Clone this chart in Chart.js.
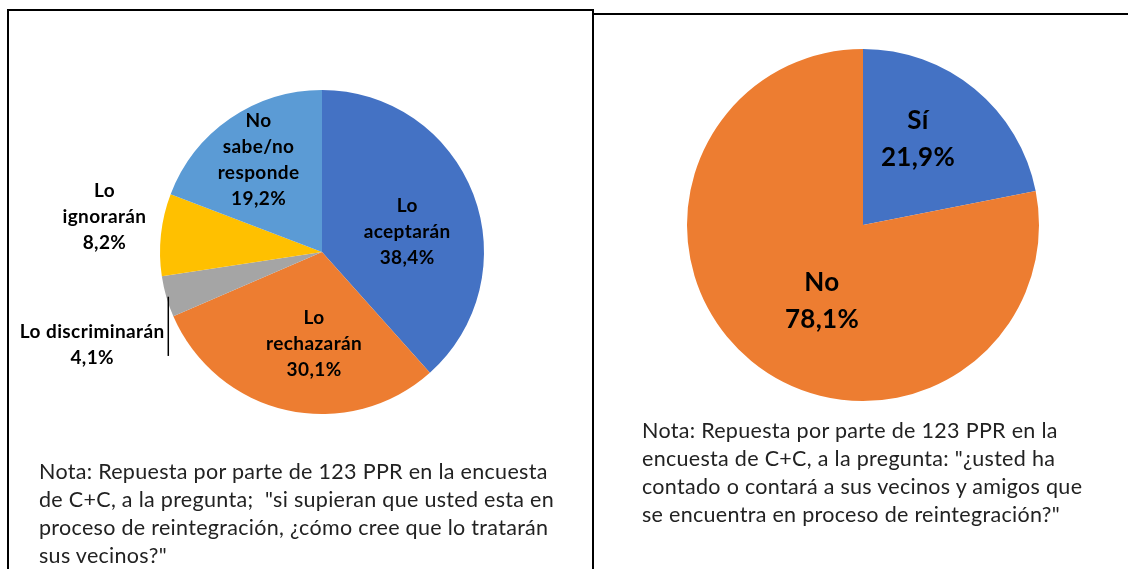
<!DOCTYPE html>
<html>
<head>
<meta charset="utf-8">
<script src="https://cdn.jsdelivr.net/npm/chart.js@4/dist/chart.umd.min.js"></script>
<style>
  html,body{margin:0;padding:0;background:#fff;}
  body{width:1128px;height:569px;position:relative;overflow:hidden;font-family:Lato,"Open Sans",sans-serif;}
  .box{position:absolute;box-sizing:border-box;}
  #leftBox{left:7px;top:9px;width:587px;height:600px;border:2px solid #000;}
  #rightTop{left:592px;top:13px;width:536px;height:2px;background:#000;}
  .wrap{position:absolute;}
  .note{position:absolute;line-height:28px;color:#222;white-space:nowrap;font-size:21.5px;letter-spacing:0.3px;}
</style>
</head>
<body>
<div class="box" id="leftBox"></div>
<div class="box" id="rightTop"></div>
<div class="wrap" style="left:9px;top:11px;width:582px;height:480px;"><canvas id="c1"></canvas></div>
<div class="wrap" style="left:594px;top:15px;width:534px;height:410px;"><canvas id="c2"></canvas></div>
<div class="note" id="n1" style="left:39px;top:457px;"></div>
<div class="note" id="n2" style="left:642px;top:416px;"></div>
<script>
// ---- Data ----
const leftCategories = ['Lo aceptarán', 'Lo rechazarán', 'Lo discriminarán', 'Lo ignorarán', 'No sabe/no responde'];
const leftLabelLines = [['Lo', 'aceptarán'], ['Lo', 'rechazarán'], ['Lo discriminarán'], ['Lo', 'ignorarán'], ['No', 'sabe/no', 'responde']];
const leftValues = [38.4, 30.1, 4.1, 8.2, 19.2];
const leftColors = ['#4472C4', '#ED7D31', '#A5A5A5', '#FFC000', '#5B9BD5'];

const rightCategories = ['Sí', 'No'];
const rightValues = [21.9, 78.1];
const rightColors = ['#4472C4', '#ED7D31'];

const leftNote = ['Nota: Repuesta por parte de 123 PPR en la encuesta',
  'de C+C, a la pregunta;  "si supieran que usted esta en',
  'proceso de reintegración, ¿cómo cree que lo tratarán',
  'sus vecinos?"'];
const rightNote = ['Nota: Repuesta por parte de 123 PPR en la',
  'encuesta de C+C, a la pregunta: "¿usted ha',
  'contado o contará a sus vecinos y amigos que',
  'se encuentra en proceso de reintegración?"'];

document.getElementById('n1').innerHTML = leftNote.map(s => s.replace(/ {2}/g, ' &nbsp;')).join('<br>');
document.getElementById('n2').innerHTML = rightNote.join('<br>');

const fmt = v => v.toFixed(1).replace('.', ',') + '%';

const sliceLabels = {
  id: 'sliceLabels',
  afterDatasetsDraw(chart, args, opts) {
    const ctx = chart.ctx;
    const meta = chart.getDatasetMeta(0);
    const vals = chart.data.datasets[0].data;
    ctx.save();
    ctx.fillStyle = '#000';
    ctx.textAlign = 'center';
    ctx.textBaseline = 'middle';
    ctx.font = 'bold ' + opts.size + 'px Lato, "Open Sans", sans-serif';
    if ('letterSpacing' in ctx) ctx.letterSpacing = opts.ls + 'px';
    meta.data.forEach((arc, i) => {
      const p = opts.place[i];
      const mid = (arc.startAngle + arc.endAngle) / 2;
      const a = mid + p.da * Math.PI / 180;
      const r = arc.outerRadius * p.r;
      const x = arc.x + Math.cos(a) * r;
      const y = arc.y + Math.sin(a) * r;
      const lines = opts.lines[i].concat([fmt(vals[i])]);
      const lh = opts.lh;
      const y0 = y - (lines.length - 1) * lh / 2;
      lines.forEach((t, k) => ctx.fillText(t, x, y0 + k * lh));
      if (p.leader) {
        const ex = arc.x + Math.cos(mid) * arc.outerRadius;
        const ey = arc.y + Math.sin(mid) * arc.outerRadius;
        ctx.strokeStyle = '#000';
        ctx.lineWidth = 1.5;
        ctx.beginPath();
        ctx.moveTo(ex + 2, ey);
        ctx.lineTo(ex + 2, y0 + (lines.length - 1) * lh - 2);
        ctx.stroke();
      }
    });
    ctx.restore();
  }
};

function pie(id, values, colors, cats, pad, pluginOpts) {
  new Chart(document.getElementById(id), {
    type: 'pie',
    data: { labels: cats, datasets: [{ data: values, backgroundColor: colors, borderWidth: 0 }] },
    options: {
      responsive: true, maintainAspectRatio: false, animation: false,
      layout: { padding: pad },
      plugins: { legend: { display: false }, tooltip: { enabled: false }, sliceLabels: pluginOpts }
    },
    plugins: [sliceLabels]
  });
}

pie('c1', leftValues, leftColors, leftCategories,
  { left: 151, right: 107, top: 79, bottom: 77 },
  { size: 19, ls: 0.4, lh: 26, lines: leftLabelLines,
    place: [ { r: 0.54, da: 7.7 }, { r: 0.57, da: -7.5 }, { r: 1.53, da: -6, leader: true },
             { r: 1.36, da: 3 }, { r: 0.69, da: 0 } ] });

pie('c2', rightValues, rightColors, rightCategories,
  { left: 93, right: 89, top: 34, bottom: 24 },
  { size: 26, ls: 0.3, lh: 37, lines: [['Sí'], ['No']],
    place: [ { r: 0.58, da: -6.8 }, { r: 0.49, da: -11 } ] });
</script>
</body>
</html>
